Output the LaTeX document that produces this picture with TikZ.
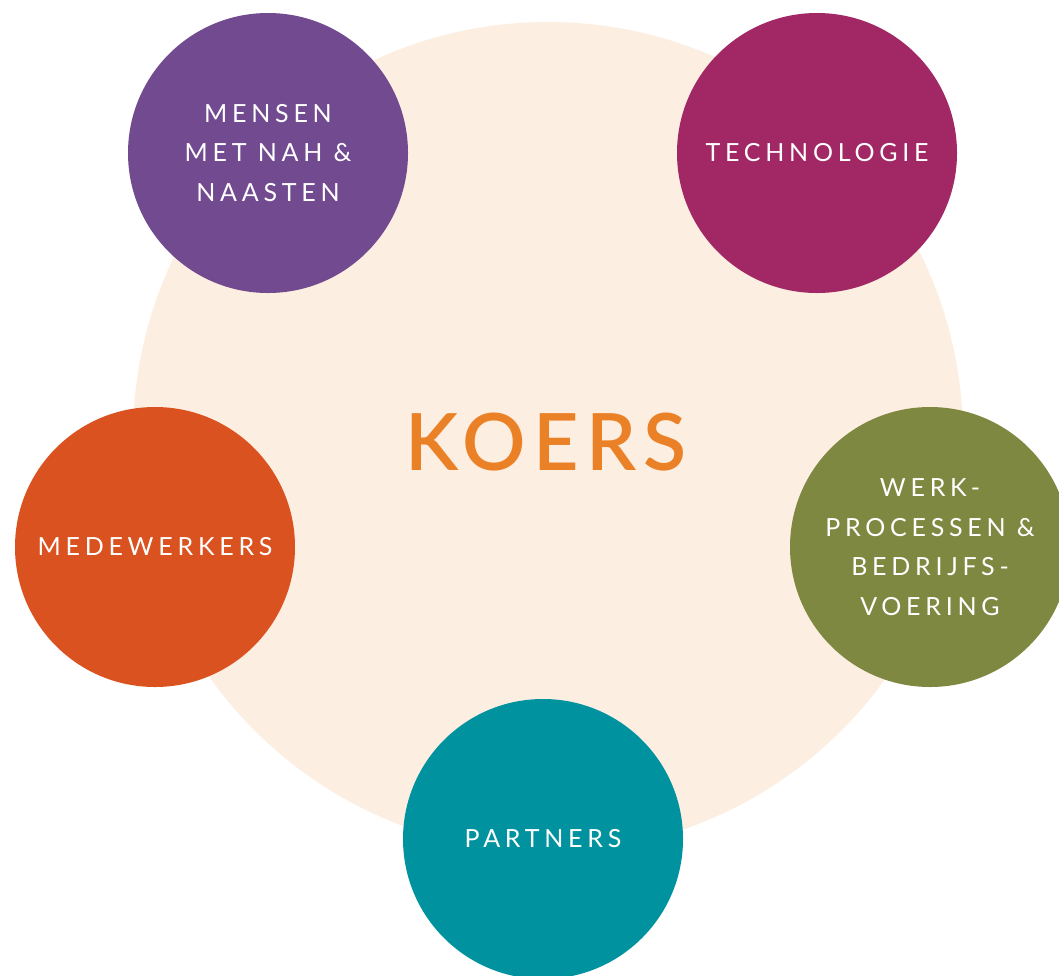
\documentclass[tikz,border=0pt]{standalone}
\usepackage{fontspec}
\newfontfamily\lblfont[LetterSpace=19]{Lato}
\newfontfamily\koersfont[LetterSpace=9]{Lato Semibold}
\definecolor{peach}{HTML}{FDEEE2}
\definecolor{cpurple}{HTML}{714A8F}
\definecolor{cmagenta}{HTML}{A22765}
\definecolor{corange}{HTML}{DA521F}
\definecolor{colive}{HTML}{7F8841}
\definecolor{cteal}{HTML}{00929E}
\definecolor{ckoers}{HTML}{EB8127}
\begin{document}
\begin{tikzpicture}[x=1pt,y=-1pt,
  disc/.style={circle,minimum size=280pt,inner sep=0pt,text=white,align=center,
    font=\lblfont\fontsize{25}{39.5}\selectfont}]
\useasboundingbox (0,0) rectangle (1059,975);
\clip (0,0) rectangle (1059,975);
\fill[white] (0,0) rectangle (1059,975);
\node[circle,fill=peach,minimum size=830pt,inner sep=0pt] (bg) at (548,437) {};
\node[text=ckoers,font=\koersfont\fontsize{79}{79}\selectfont] (koers) at (546,442) {KOERS};
\node[disc,fill=cpurple] (mensen) at (268,153) {MENSEN\\MET NAH \&\\NAASTEN};
\node[disc,fill=cmagenta] (tech) at (817,153) {TECHNOLOGIE};
\node[disc,fill=corange] (medew) at (155,547) {MEDEWERKERS};
\node[disc,fill=colive] (werk) at (930,547) {WERK-\\PROCESSEN \&\\BEDRIJFS-\\VOERING};
\node[disc,fill=cteal] (partners) at (543,839) {PARTNERS};
\end{tikzpicture}
\end{document}
